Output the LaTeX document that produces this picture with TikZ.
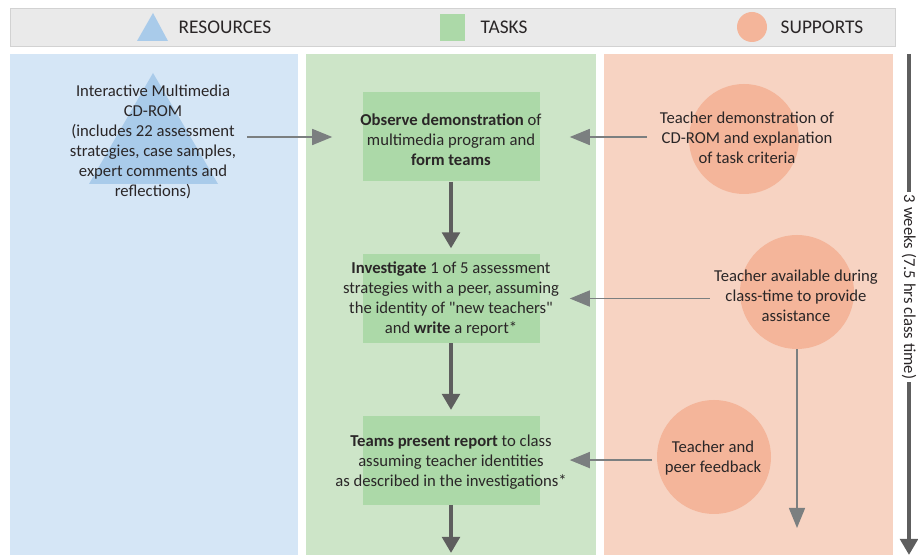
\documentclass[tikz,border=0pt]{standalone}
\usepackage{fontspec}
\setmainfont{Carlito}[Ligatures=TeXOff]
\usepackage{xcolor}
\usetikzlibrary{arrows.meta,positioning,shapes.geometric,calc}

\definecolor{headgray}{HTML}{EAEAEA}
\definecolor{headline}{HTML}{D2D2D2}
\definecolor{rescol}{HTML}{D5E6F6}
\definecolor{resshape}{HTML}{A9CBEA}
\definecolor{taskcol}{HTML}{CDE5C8}
\definecolor{taskshape}{HTML}{ACD9A8}
\definecolor{supcol}{HTML}{F7D3C2}
\definecolor{supshape}{HTML}{F4B59A}
\definecolor{thingray}{HTML}{7B7F80}
\definecolor{thickgray}{HTML}{5E5E5E}
\definecolor{textdark}{HTML}{2A2627}

\begin{document}
\begin{tikzpicture}[x=0.75pt, y=-0.75pt, node distance=54pt,
    every node/.style={font=\fontsize{12.5}{15}\selectfont, text=textdark}]
    \useasboundingbox (0,0) rectangle (918,555);
    % header
    \draw[fill=headgray, draw=headline] (10,8) rectangle (895,46);
    \fill[resshape] (137,41) -- (153,13) -- (168,41) -- cycle;
    \fill[taskshape] (440,14) rectangle (465,41);
    \node (legsup) [circle, fill=supshape, minimum size=22.5pt, inner sep=0pt] at (752,27) {};
    \node (legres) [anchor=west, font=\fontsize{14.5}{15}\selectfont] at (174,27) {RESOURCES};
    \node (legtask) [anchor=west, font=\fontsize{14.5}{15}\selectfont] at (476,27) {TASKS};
    \node (legsupt) [anchor=west, font=\fontsize{14.5}{15}\selectfont] at (776,27) {SUPPORTS};

    % columns
    \fill[rescol] (10,54) rectangle (298,555);
    \fill[taskcol] (306,54) rectangle (596,555);
    \fill[supcol] (604,54) rectangle (893,555);

    % resources
    \fill[resshape] (153,73) -- (218,184) -- (89,184) -- cycle;
    \node (cdrom) [align=center] at (153,142) {Interactive Multimedia\\CD-ROM\\(includes 22 assessment\\strategies, case samples,\\expert comments and\\reflections)};

    % tasks
    \node (task1) [fill=taskshape, minimum width=132.75pt, minimum height=66.75pt] at (451,137) {};
    \node (task2) [fill=taskshape, minimum width=132.75pt, minimum height=66.75pt, below=of task1] {};
    \node (task3) [fill=taskshape, minimum width=132.75pt, minimum height=66.75pt, below=of task2] {};
    \node (task1txt) [align=center] at ($(task1)+(0,3)$) {\textbf{Observe demonstration} of\\multimedia program and\\\textbf{form teams}};
    \node (task2txt) [align=center] at (task2) {\textbf{Investigate} 1 of 5 assessment\\strategies with a peer, assuming\\the identity of "new teachers"\\and \textbf{write} a report*};
    \node (task3txt) [align=center] at ($(task3)+(0,2)$) {\textbf{Teams present report} to class\\assuming teacher identities\\as described in the investigations*};
    \coordinate (taskend) at (451,553);

    % supports
    \node (sup1) [circle, fill=supshape, minimum size=82.5pt] at (744,139) {};
    \node (sup2) [circle, fill=supshape, minimum size=85.5pt] at (797,292) {};
    \node (sup3) [circle, fill=supshape, minimum size=85.5pt] at (714,457) {};
    \node (sup1txt) [align=center] at (747,138) {Teacher demonstration of\\CD-ROM and explanation\\of task criteria};
    \node (sup2txt) [align=center] at (796,296) {Teacher available during\\class-time to provide\\assistance};
    \node (sup3txt) [align=center] at (713,458) {Teacher and\\peer feedback};
    \coordinate (supend) at (797,528);

    % time line
    \node (time) [rotate=-90, inner sep=2pt] at (909,287) {3 weeks (7.5 hrs class time)};
    \coordinate (timetop) at (909,54);
    \coordinate (timeend) at (909,555);

    \draw[thingray, line width=1.1pt, -{Triangle[length=15pt, width=12pt]}, shorten <=5pt, shorten >=22.5pt] (cdrom.east |- task1) -- (task1.west);
    \draw[thingray, line width=1.1pt, -{Triangle[length=15pt, width=12pt]}, shorten <=6pt, shorten >=22.5pt] (sup1txt.west |- task1) -- (task1.east);
    \draw[thingray, line width=1.1pt, -{Triangle[length=15pt, width=12pt]}, shorten >=22.5pt] (sup2txt.west |- task2) -- (task2.east);
    \draw[thingray, line width=1.1pt, -{Triangle[length=15pt, width=12pt]}, shorten <=6pt, shorten >=22.5pt] (sup3txt.west |- task3) -- (task3.east);
    \draw[thingray, line width=1.1pt, -{Triangle[length=15pt, width=12pt]}] (sup2.south) -- (supend);
    \draw[thickgray, line width=3pt, -{Triangle[length=12pt, width=13pt]}, shorten >=4pt] (task1) -- (task2);
    \draw[thickgray, line width=3pt, -{Triangle[length=12pt, width=13pt]}, shorten >=4pt] (task2) -- (task3);
    \draw[thickgray, line width=3pt, -{Triangle[length=12pt, width=13pt]}] (task3) -- (taskend);
    \draw[thickgray, line width=3.5pt] (timetop) -- (time.west);
    \draw[thickgray, line width=3.5pt, -{Triangle[length=12pt, width=13pt]}] (time.east) -- (timeend);
  \end{tikzpicture}
\end{document}
